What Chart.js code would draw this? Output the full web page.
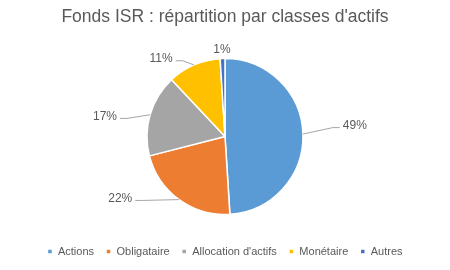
<!DOCTYPE html>
<html><head><meta charset="utf-8">
<script src="https://cdn.jsdelivr.net/npm/chart.js@4.4.0/dist/chart.umd.min.js"></script>
<style>html,body{margin:0;padding:0;background:#fff}#wrap{width:450px;height:270px}</style>
</head><body><div id="wrap"><canvas id="c" width="450" height="270"></canvas></div>
<script>
const categories = ['Actions', 'Obligataire', "Allocation d'actifs", 'Monétaire', 'Autres'];
const shares = [49, 22, 17, 11, 1];
const titleText = "Fonds ISR : répartition par classes d'actifs";

const sliceColors = ['#5B9BD5', '#ED7D31', '#A5A5A5', '#FFC000', '#4472C4'];
// label placement around the pie: [angle in degrees, distance as multiple of radius]
const labelPlacement = [[-4.8, 1.67], [149.4, 1.56], [189.5, 1.56], [230.6, 1.29], [268, 1.115]];
const showLeader = [true, true, true, true, false];
const FONT = "'Liberation Sans', Arial, sans-serif";

const outsideLabels = {
  id: 'outsideLabels',
  afterDatasetsDraw(chart) {
    const ctx = chart.ctx;
    const meta = chart.getDatasetMeta(0);
    const data = chart.data.datasets[0].data;
    const total = data.reduce((a, b) => a + b, 0);
    ctx.save();
    ctx.font = '12px ' + FONT;
    ctx.textBaseline = 'middle';
    ctx.textAlign = 'center';
    meta.data.forEach((arc, i) => {
      const p = arc.getProps(['x', 'y', 'startAngle', 'endAngle', 'outerRadius'], true);
      const mid = (p.startAngle + p.endAngle) / 2;
      const ex = p.x + Math.cos(mid) * p.outerRadius;
      const ey = p.y + Math.sin(mid) * p.outerRadius;
      const [deg, f] = labelPlacement[i];
      const a = deg * Math.PI / 180;
      const lx = p.x + Math.cos(a) * p.outerRadius * f;
      const ly = p.y + Math.sin(a) * p.outerRadius * f;
      const txt = Math.round(data[i] / total * 100) + '%';
      const w = ctx.measureText(txt).width;
      if (showLeader[i]) {
        const side = lx > p.x ? -1 : 1;
        const tx = lx + side * (w / 2 + 3);
        const ty = ly + 2;
        const bx = tx + side * 7;
        ctx.strokeStyle = '#A6A6A6';
        ctx.lineWidth = 1;
        ctx.beginPath();
        ctx.moveTo(ex, ey);
        ctx.lineTo(bx, ty);
        ctx.lineTo(tx, ty);
        ctx.stroke();
      }
      ctx.fillStyle = '#595959';
      ctx.fillText(txt, lx, ly);
    });
    ctx.restore();
  }
};

new Chart(document.getElementById('c'), {
  type: 'pie',
  data: {
    labels: categories,
    datasets: [{
      data: shares,
      backgroundColor: sliceColors,
      borderColor: '#FFFFFF',
      borderWidth: 1.5,
      radius: 78
    }]
  },
  options: {
    responsive: false,
    animation: false,
    events: [],
    layout: { padding: { top: 0, bottom: 3, left: 0, right: 0 } },
    plugins: {
      title: {
        display: true,
        text: titleText,
        color: '#595959',
        font: { family: FONT, size: 17.5, weight: 'normal' },
        padding: { top: 7, bottom: 11 }
      },
      legend: {
        position: 'bottom',
        labels: {
          color: '#595959',
          font: { family: FONT, size: 11 },
          usePointStyle: true,
          pointStyle: 'rect',
          boxWidth: 5,
          boxHeight: 5,
          padding: 12
        }
      },
      tooltip: { enabled: false }
    }
  },
  plugins: [outsideLabels]
});
</script>
</body></html>
